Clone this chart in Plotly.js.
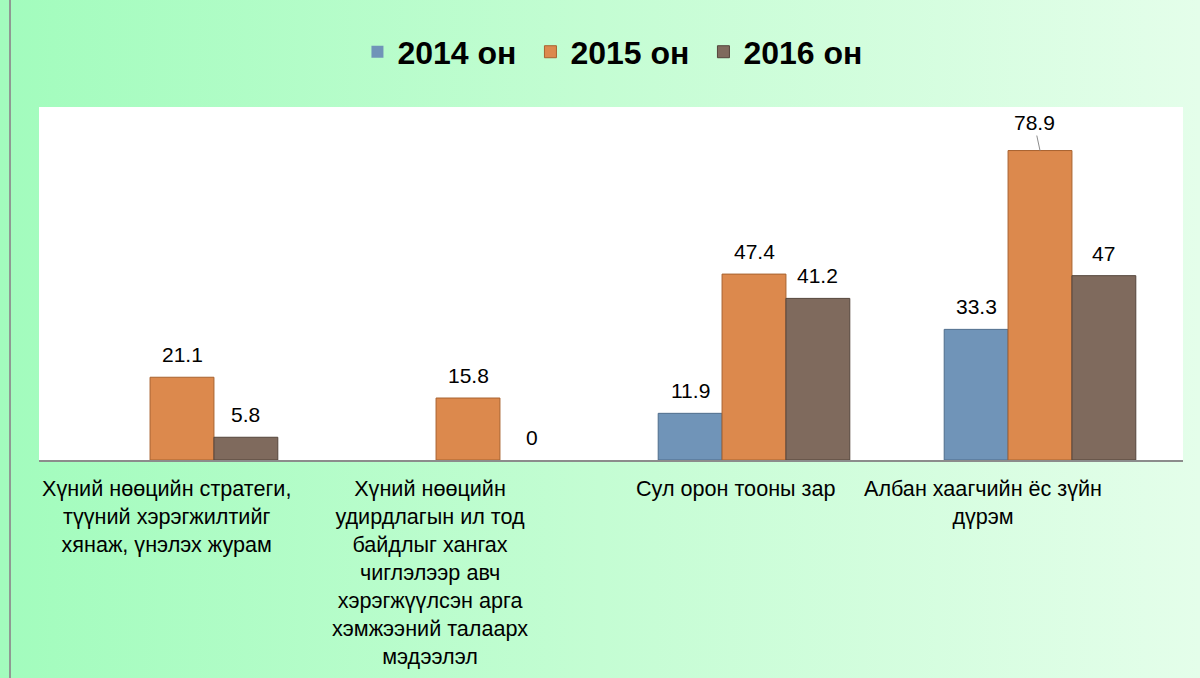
<!DOCTYPE html>
<html>
<head>
<meta charset="utf-8">
<script src="https://cdn.plot.ly/plotly-3.0.1.min.js"></script>
<style>
  html, body { margin: 0; padding: 0; }
  body { width: 1200px; height: 678px; background: linear-gradient(to right, #a2fcbd 0%, #c4fdd3 50%, #e4feea 100%); position: relative; overflow: hidden; }
  #frame { position: absolute; left: 9px; top: 0; width: 2px; height: 678px; background: #8f9a93; }
  #chart { position: absolute; left: 0; top: 0; width: 1200px; height: 678px; }
</style>
</head>
<body>
<div id="frame"></div>
<div id="chart"></div>
<script>
const categories = [
  "Хүний нөөцийн стратеги,<br>түүний хэрэгжилтийг<br>хянаж, үнэлэх журам",
  "Хүний нөөцийн<br>удирдлагын ил тод<br>байдлыг хангах<br>чиглэлээр авч<br>хэрэгжүүлсэн арга<br>хэмжээний талаарх<br>мэдээлэл",
  "Сул орон тооны зар",
  "Албан хаагчийн ёс зүйн<br>дүрэм"
];
const seriesNames = ["2014 он", "2015 он", "2016 он"];
const values2014 = [null, null, 11.9, 33.3];
const values2015 = [21.1, 15.8, 47.4, 78.9];
const values2016 = [5.8, 0, 41.2, 47];
const seriesValues = [values2014, values2015, values2016];

// style settings (not data)
const colors = ["#7094b8", "#dc894d", "#7f6a5d"];
const lineColors = ["#4f6d8c", "#a8622f", "#54453b"];
const categoryLabelShift = [-16, -38, -18, -57]; // px, as laid out in the original
const bargap = 0.33;
const nSeries = seriesValues.length;
const barW = (1 - bargap) / nSeries;
const fontFamily = 'Liberation Sans, Arial, sans-serif';

const traces = seriesValues.map((vals, i) => ({
  type: 'bar',
  name: seriesNames[i],
  x: categories,
  y: vals,
  marker: {
    color: colors[i],
    line: { color: lineColors[i], width: vals.map(v => (v ? 1 : 0)) }
  },
  hoverinfo: 'skip'
}));

const annotations = [];
const maxVal = Math.max(...values2015);
seriesValues.forEach((vals, i) => {
  vals.forEach((v, j) => {
    if (v === null) return;
    const xPos = j + (i - (nSeries - 1) / 2) * barW;
    if (v === maxVal) {
      annotations.push({
        x: xPos, y: v, xref: 'x', yref: 'y',
        text: String(v), showarrow: true, arrowhead: 0, arrowwidth: 1,
        arrowcolor: '#8c8c8c', ax: -6, ay: -28, standoff: 0,
        font: { family: fontFamily, size: 21, color: '#000' }
      });
    } else {
      annotations.push({
        x: xPos, y: v, xref: 'x', yref: 'y',
        text: String(v), showarrow: false, yanchor: 'bottom', yshift: 9,
        font: { family: fontFamily, size: 21, color: '#000' }
      });
    }
  });
});

categories.forEach((c, j) => {
  annotations.push({
    x: c, y: 0, xref: 'x', yref: 'y',
    text: c, showarrow: false, yanchor: 'top', xanchor: 'center', align: 'center',
    yshift: -14, xshift: categoryLabelShift[j],
    font: { family: fontFamily, size: 21.6, color: '#000' }
  });
});

const layout = {
  width: 1200,
  height: 678,
  margin: { l: 39, r: 17, t: 107, b: 218 },
  paper_bgcolor: 'rgba(0,0,0,0)',
  plot_bgcolor: '#ffffff',
  barmode: 'group',
  bargap: bargap,
  bargroupgap: 0,
  showlegend: true,
  legend: {
    orientation: 'h',
    x: 0.5052, xanchor: 'center',
    y: 1.156, yanchor: 'middle',
    font: { family: fontFamily, size: 32, color: '#000', weight: 'bold' },
    bgcolor: 'rgba(0,0,0,0)',
    entrywidth: 128,
    entrywidthmode: 'pixels',
    traceorder: 'normal'
  },
  xaxis: {
    type: 'category',
    showline: true,
    linecolor: '#8c8c8c',
    linewidth: 2,
    ticks: '',
    showgrid: false,
    zeroline: false,
    showticklabels: false,
    fixedrange: true
  },
  yaxis: {
    range: [0, 90],
    showticklabels: false,
    showgrid: false,
    zeroline: false,
    showline: false,
    ticks: '',
    fixedrange: true
  },
  annotations: annotations
};

Plotly.newPlot('chart', traces, layout, { displayModeBar: false, staticPlot: true });
</script>
</body>
</html>
